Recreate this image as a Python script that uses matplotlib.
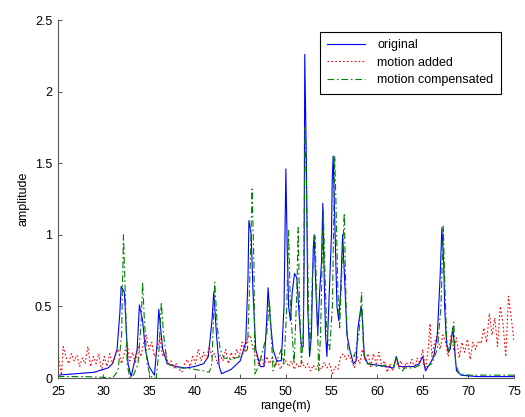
import numpy as np
from matplotlib import pyplot as plt

## donnees

# original (bleu)
r_orig = [25, 27, 29, 30.5, 31, 31.5, 31.8, 31.95, 32.3, 32.7, 33.05, 33.7, 33.95, 34.3, 34.6, 35, 35.6,
          35.9, 36.07, 36.5, 37, 38, 39, 40, 41, 41.5, 41.9, 42.1, 42.4, 42.7, 42.95, 44, 45, 45.6, 45.85,
          45.95, 46.2, 46.4, 46.7, 47.2, 47.6, 47.9, 48.05, 48.3, 48.6, 49, 49.5, 49.8, 50.0, 50.15, 50.3,
          50.5, 50.7, 50.95, 51.2, 51.5, 51.7, 51.9, 52.0, 52.07, 52.25, 52.4, 52.6, 52.8, 53.0, 53.1, 53.3,
          53.5, 53.7, 53.9, 54.05, 54.2, 54.35, 54.5, 54.7, 55.0, 55.08, 55.18, 55.4, 55.6, 55.8, 56.0, 56.22,
          56.5, 56.7, 57.0, 57.4, 57.7, 57.9, 58.25, 58.4, 58.6, 59, 60, 61, 61.8, 62.1, 62.4, 63, 64, 64.6,
          65, 65.3, 65.8, 66.2, 66.6, 66.9, 67.1, 67.3, 67.4, 67.6, 67.8, 68.0, 68.2, 68.3, 68.5, 68.7, 69.2,
          70, 71, 75]
a_orig = [0.02, 0.03, 0.04, 0.07, 0.1, 0.2, 0.45, 0.64, 0.6, 0.1, 0.01, 0.2, 0.51, 0.4, 0.2, 0.08, 0.02,
          0.25, 0.48, 0.2, 0.1, 0.08, 0.07, 0.08, 0.1, 0.15, 0.4, 0.6, 0.3, 0.08, 0.03, 0.06, 0.12, 0.25, 0.7,
          1.1, 1.0, 0.6, 0.2, 0.08, 0.08, 0.4, 0.63, 0.4, 0.2, 0.12, 0.12, 0.5, 1.46, 0.9, 0.5,
          0.4, 0.6, 0.73, 0.7, 0.4, 0.22, 0.22, 0.8, 2.26, 1.5, 0.5, 0.15, 0.3, 0.9, 1.0, 0.6,
          0.3, 0.6, 0.8, 1.22, 0.7, 0.3, 0.15, 0.5, 1.0, 1.38, 1.55, 1.0, 0.5, 0.4, 0.6, 1.0,
          0.6, 0.3, 0.2, 0.1, 0.12, 0.35, 0.5, 0.4, 0.15, 0.1, 0.09, 0.08, 0.07, 0.15, 0.08, 0.08, 0.08, 0.1,
          0.15, 0.05, 0.1, 0.15, 0.3, 0.7, 1.05, 0.8, 0.5, 0.25, 0.18, 0.2, 0.3, 0.35, 0.2, 0.05, 0.02,
          0.015, 0.01, 0.01]

# motion added (rouge)
r_added = [25, 25.2, 25.4, 25.6, 25.9, 26.2, 26.5, 26.8, 27.1, 27.4, 27.7, 28.0, 28.3, 28.6, 28.9, 29.2,
           29.5, 29.8, 30.1, 30.4, 30.7, 31, 31.3, 31.6, 32, 32.3, 32.6, 32.9, 33.2, 33.5, 33.8, 34.1, 34.4,
           34.7, 35, 35.3, 35.6, 35.9, 36.2, 36.5, 36.8, 37.1, 37.4, 37.7, 38, 38.3, 38.6, 38.9, 39.2, 39.5,
           39.8, 40.1, 40.4, 40.7, 41, 41.3, 41.6, 41.9, 42.2, 42.5, 42.8, 43.1, 43.4, 43.7, 44, 44.3, 44.6,
           44.9, 45.2, 45.5, 45.8, 46.1, 46.4, 46.7, 47, 47.3, 47.6, 47.9, 48.2, 48.5, 48.8, 49.1, 49.4, 49.7,
           50, 50.3, 50.6, 50.9, 51.2, 51.5, 51.8, 52.1, 52.4, 52.7, 53.0, 53.3, 53.6, 53.9, 54.2, 54.5, 54.8,
           55.1, 55.4, 55.7, 56.0, 56.3, 56.6, 56.9, 57.2, 57.5, 57.8, 58.1, 58.4, 58.7, 59, 59.3, 59.6, 59.9,
           60.2, 60.5, 60.8, 61.1, 61.4, 61.7, 62, 62.3, 62.6, 62.9, 63.2, 63.5, 63.8, 64.1, 64.4, 64.7, 65.0,
           65.3, 65.6, 65.8, 66.0, 66.3, 66.6, 66.9, 67.2, 67.5, 67.8, 68.1, 68.4, 68.7, 69.0, 69.3, 69.6,
           69.9, 70.2, 70.5, 70.8, 71.1, 71.4, 71.7, 72.0, 72.3, 72.6, 72.9, 73.2, 73.5, 73.8, 74.1, 74.4,
           74.7, 75]
a_added = [0.2, 0.1, 0.02, 0.22, 0.15, 0.1, 0.17, 0.12, 0.16, 0.08, 0.14, 0.1, 0.22, 0.08, 0.15, 0.1,
           0.17, 0.05, 0.15, 0.08, 0.17, 0.1, 0.15, 0.2, 0.1, 0.17, 0.25, 0.12, 0.18, 0.1, 0.22, 0.15, 0.24,
           0.3, 0.2, 0.25, 0.15, 0.2, 0.28, 0.15, 0.18, 0.1, 0.12, 0.07, 0.1, 0.06, 0.04, 0.1, 0.13, 0.08,
           0.15, 0.1, 0.2, 0.12, 0.18, 0.13, 0.22, 0.15, 0.17, 0.1, 0.16, 0.12, 0.2, 0.1, 0.18, 0.13, 0.2,
           0.15, 0.25, 0.18, 0.28, 0.3, 0.2, 0.17, 0.1, 0.15, 0.08, 0.15, 0.1, 0.14, 0.08, 0.12, 0.06, 0.1,
           0.12, 0.08, 0.12, 0.06, 0.1, 0.07, 0.11, 0.07, 0.1, 0.05, 0.09, 0.06, 0.1, 0.06, 0.11, 0.07, 0.1,
           0.03, 0.08, 0.06, 0.15, 0.17, 0.13, 0.16, 0.12, 0.07, 0.15, 0.1, 0.2, 0.12, 0.17, 0.08, 0.17, 0.1,
           0.18, 0.08, 0.12, 0.04, 0.1, 0.05, 0.13, 0.08, 0.12, 0.06, 0.11, 0.08, 0.13, 0.07, 0.14, 0.1, 0.2,
           0.06, 0.2, 0.38, 0.15, 0.25, 0.3, 0.2, 0.3, 0.25, 0.15, 0.3, 0.2, 0.28, 0.14, 0.25, 0.18,
           0.27, 0.13, 0.25, 0.2, 0.26, 0.24, 0.35, 0.25, 0.45, 0.3, 0.42, 0.22, 0.5, 0.38, 0.15, 0.57,
           0.42, 0.26]

# motion compensated (vert)
r_comp = [25, 28, 30, 31, 31.6, 32.0, 32.2, 32.4, 32.6, 32.9, 33.3, 33.8, 34.15, 34.3, 34.5, 34.8, 35.1,
          35.4, 35.8, 36.1, 36.35, 36.6, 37, 38, 39, 40, 41, 41.6, 41.9, 42.2, 42.5, 42.8, 43.2, 44, 45,
          45.8, 46.1, 46.3, 46.5, 46.6, 47, 47.5, 47.9, 48.2, 48.4, 48.6, 49, 49.5, 49.8, 50.1, 50.3, 50.5,
          50.7, 50.9, 51.2, 51.35, 51.5, 51.7, 51.9, 52.1, 52.2, 52.35, 52.5, 52.7, 52.9, 53.2, 53.4, 53.6,
          53.8, 54.1, 54.3, 54.5, 54.8, 55.1, 55.35, 55.5, 55.7, 55.9, 56.1, 56.4, 56.6, 56.8, 57.0, 57.5,
          58.0, 58.3, 58.5, 58.8, 59, 60, 61, 61.8, 62.1, 62.4, 62.8, 63, 64, 65, 65.5, 66, 66.6, 67.0,
          67.25, 67.4, 67.6, 67.8, 68.1, 68.4, 68.6, 69, 70, 72, 75]
a_comp = [0.01, 0.01, 0.005, 0.0, 0.05, 0.3, 1.0, 0.6, 0.1, 0.0, 0.02, 0.1, 0.4, 0.67, 0.4, 0.1, 0.02,
          0.0, 0.0, 0.2, 0.53, 0.3, 0.1, 0.07, 0.07, 0.06, 0.05, 0.04, 0.1, 0.67, 0.35, 0.2, 0.14, 0.13, 0.15,
          0.2, 0.8, 1.32, 0.8, 0.03, 0.08, 0.2, 0.3, 0.55, 0.3, 0.05, 0.12, 0.2, 0.1, 0.5, 1.03, 0.5,
          0.3, 0.1, 0.6, 1.05, 0.5, 0.1, 0.3, 1.75, 1.5, 1.0, 0.4, 0.2, 0.7, 1.0, 0.5, 0.05,
          0.3, 1.18, 0.7, 0.3, 0.2, 0.5, 1.55, 1.2, 0.6, 0.35, 0.7, 1.15, 0.5, 0.2, 0.18, 0.15,
          0.3, 0.6, 0.2, 0.1, 0.1, 0.08, 0.09, 0.07, 0.15, 0.07, 0.05, 0.07, 0.07, 0.1, 0.08, 0.1, 0.2, 0.5,
          1.06, 0.7, 0.3, 0.18, 0.25, 0.39, 0.1, 0.03, 0.02, 0.02, 0.02]

plt.rcParams['font.family'] = ['Liberation Sans', 'DejaVu Sans']
plt.rcParams['font.size'] = 9

fig = plt.figure(figsize=(5.25, 4.17), dpi=100)
ax = fig.add_axes([0.110, 0.0935, 0.869, 0.8585])

ax.plot(r_orig, a_orig, '-', color=(0, 0, 1), lw=0.8, label='original')
ax.plot(r_added, a_added, linestyle=(0, (1.5, 2)), color=(1, 0, 0), lw=0.8, label='motion added')
ax.plot(r_comp, a_comp, linestyle=(0, (6, 2.5, 1.5, 2.5)), color=(0, 0.5, 0), lw=0.8, label='motion compensated')

ax.set_xlim(25, 75)
ax.set_ylim(0, 2.5)
ax.set_xticks(np.arange(25, 76, 5))
ax.set_yticks([0, 0.5, 1, 1.5, 2, 2.5])
ax.set_yticklabels(['0', '0.5', '1', '1.5', '2', '2.5'])
ax.tick_params(direction='in', length=3, width=0.6, colors='#333333', labelcolor='black')
ax.tick_params(axis='x', pad=6)
ax.tick_params(axis='y', pad=4)
ax.spines['top'].set_visible(False)
ax.spines['right'].set_visible(False)
for s in ['left', 'bottom']:
    ax.spines[s].set_color('#555555')
    ax.spines[s].set_linewidth(0.8)

ax.set_xlabel('range(m)', labelpad=1)
ax.set_ylabel('amplitude', labelpad=4)

leg = ax.legend(loc='upper right', bbox_to_anchor=(0.985, 0.985), fancybox=False, framealpha=1,
                edgecolor='black', handlelength=3.0, borderpad=0.6, labelspacing=0.45, handletextpad=1.0)
leg.get_frame().set_linewidth(0.8)

plt.savefig('out.png', dpi=100)
